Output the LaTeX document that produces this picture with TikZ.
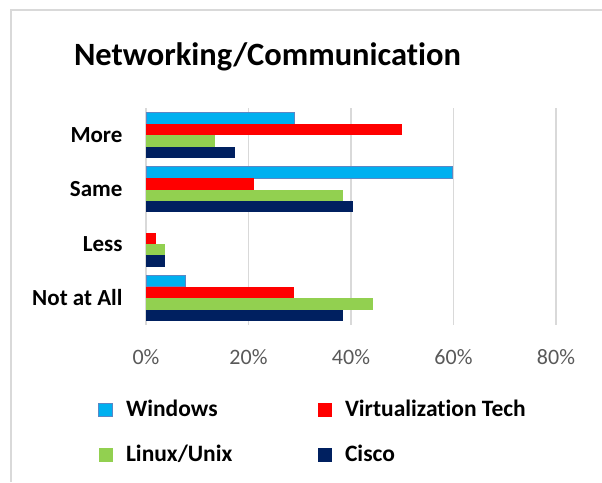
\documentclass[tikz,border=0pt]{standalone}
\usepackage{fontspec}
\setmainfont[Ligatures=NoCommon]{Carlito}

\definecolor{winblue}{HTML}{00B0F0}
\definecolor{winedge}{HTML}{5B87C5}
\definecolor{virtred}{HTML}{FF0000}
\definecolor{linuxgreen}{HTML}{92D050}
\definecolor{ciscoblue}{HTML}{002060}
\definecolor{gridgray}{HTML}{D9D9D9}
\definecolor{ticktext}{HTML}{595959}

\tikzset{
  catlabel/.style={anchor=base east, font=\bfseries\fontsize{23}{23}\selectfont},
  ticklabel/.style={anchor=base, text=ticktext, font=\fontsize{22}{22}\selectfont},
  legtext/.style={anchor=base west, font=\bfseries\fontsize{23.5}{23.5}\selectfont},
  gridline/.style={gridgray, line width=1.5pt},
}

\begin{document}
\begin{tikzpicture}[x=1pt,y=-1pt]
\useasboundingbox (0,0) rectangle (602,482);

% chart area
\draw[gridline] (11,482) -- (11,10) -- (602,10);

% title
\node[anchor=base, font=\bfseries\fontsize{32.5}{32.5}\selectfont] (title) at (267.5,65) {Networking/Communication};

% grid + axis
\foreach \p [count=\i from 0] in {0,20,40,60,80} {
    \draw[gridline] (146+\i*102.5,108) -- (146+\i*102.5,325);
    \node[ticklabel] (tick\i) at (146+\i*102.5,364.3) {\p\%};
}

% bars
\foreach \cat/\w/\v/\l/\c [count=\k from 0] in {More/29/50/13.4/17.3, Same/59.8/21.1/38.4/40.4, Less/0/2/3.8/3.8, Not at All/7.7/28.9/44.2/38.4} {
    \pgfmathsetmacro\ytop{112.6+\k*54.25}
    \pgfmathparse{\w>0 ? 1 : 0}
    \ifnum\pgfmathresult=1
        \draw[fill=winblue, draw=winedge, line width=1pt] (146,\ytop) rectangle ++(\w*5.125,11.4);
    \fi
    \fill[virtred] (146,\ytop+11.4) rectangle ++(\v*5.125,11.4);
    \fill[linuxgreen] (146,\ytop+22.8) rectangle ++(\l*5.125,11.4);
    \fill[ciscoblue] (146,\ytop+34.2) rectangle ++(\c*5.125,11.4);
    \node[catlabel] (cat\k) at (126,108+\k*54.25+27.1+7.4) {\cat};
}

% legend
\draw[fill=winblue, draw=winedge, line width=1pt] (98.8,403.2) rectangle (112.8,416.8);
\node[legtext] (legwin) at (122.5,416.7) {Windows};
\fill[virtred] (318.3,402.9) rectangle (331.7,416.5);
\node[legtext] (legvirt) at (341.5,416.7) {Virtualization Tech};
\fill[linuxgreen] (99.3,448.3) rectangle (112.7,461.7);
\node[legtext] (leglinux) at (122.5,461.7) {Linux/Unix};
\fill[ciscoblue] (318.3,448.3) rectangle (331.7,461.7);
\node[legtext] (legcisco) at (341.5,461.7) {Cisco};

\end{tikzpicture}
\end{document}
